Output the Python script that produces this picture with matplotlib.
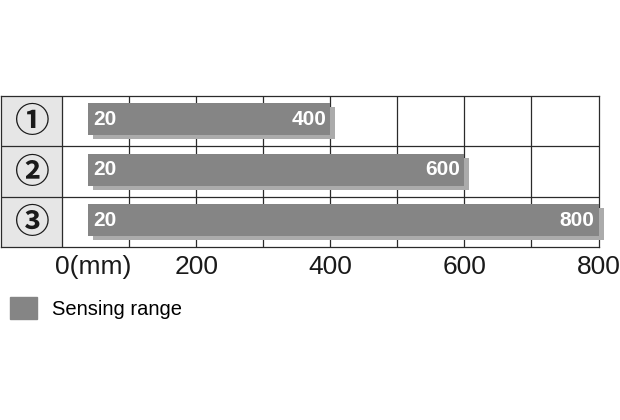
import numpy as np
import matplotlib
matplotlib.use("Agg")
import matplotlib.pyplot as plt
import matplotlib.patheffects as pe
from matplotlib.patches import Patch

# data
rows = ["①", "②", "③"]
range_max = [400, 600, 800]          # upper end of sensing range (mm)
min_labels = ["20", "20", "20"]      # printed lower limit
bar_left = [39, 39, 39]              # where the drawn bar starts (mm, as pictured)
xticks = [200, 400, 600, 800]
xtick_labels = ["200", "400", "600", "800"]

BAR = "#858585"
SHADOW = "#ababab"
COLUMN = "#e6e6e6"
LINE = "#2b2b2b"
LABEL_COL = 91                       # width of the left label column in mm units

plt.rcParams["font.family"] = ["Liberation Sans", "DejaVu Sans"]

fig = plt.figure(figsize=(6.2, 4.2), dpi=100)
ax = fig.add_axes([1 / 620, 1 - 247 / 420, 597.5 / 620, 151.5 / 420])
ax.set_xlim(-LABEL_COL, 800)
ax.set_ylim(len(rows), 0)

# label column and grid
ax.axvspan(-LABEL_COL, 0, color=COLUMN, zorder=0)
for x in range(0, 800, 100):
    ax.axvline(x, color=LINE, lw=0.9, zorder=1)
for y in range(1, len(rows)):
    ax.axhline(y, color=LINE, lw=0.9, zorder=1)
for s in ax.spines.values():
    s.set_color(LINE)
    s.set_linewidth(0.9)

ypos = np.arange(len(rows)) + 0.47
widths = np.array(range_max) - np.array(bar_left)
bars = ax.barh(ypos, widths, left=bar_left, height=0.63, color=BAR,
               zorder=3, clip_on=False)
for b in bars:
    b.set_path_effects([pe.SimplePatchShadow(offset=(3.6, -2.9),
                                             shadow_rgbFace=SHADOW, alpha=1),
                        pe.Normal()])

for y, lo, lo_txt, hi in zip(ypos, bar_left, min_labels, range_max):
    ax.annotate(lo_txt, (lo, y), xytext=(4, 0), textcoords="offset points",
                ha="left", va="center", color="white", fontsize=15,
                fontweight="bold", zorder=4)
    ax.annotate(str(hi), (hi, y), xytext=(-3, 0), textcoords="offset points",
                ha="right", va="center", color="white", fontsize=15,
                fontweight="bold", zorder=4)

for i, r in enumerate(rows):
    ax.text(-LABEL_COL / 2, i + 0.52, r, ha="center", va="center",
            fontsize=25, fontweight="bold",
            family=["Noto Sans CJK JP", "DejaVu Sans"],
            color="#1a1a1a", zorder=4)

ax.set_yticks([])
ax.set_xticks(xticks)
ax.set_xticklabels(xtick_labels, fontsize=19, color="#1a1a1a")
ax.tick_params(axis="x", length=0, pad=6)
ax.annotate("0(mm)", (0, 0), xycoords=ax.get_xaxis_transform(),
            xytext=(-5, -6), textcoords="offset points",
            ha="left", va="top", fontsize=19, color="#1a1a1a")

fig.legend(handles=[Patch(color=BAR)], labels=["Sensing range"],
           loc="upper left", bbox_to_anchor=(10 / 620, 1 - 297 / 420),
           frameon=False, fontsize=14.5, handlelength=1.34, handleheight=1.3,
           handletextpad=0.75, borderpad=0, borderaxespad=0)

fig.savefig("out.png", dpi=100)
